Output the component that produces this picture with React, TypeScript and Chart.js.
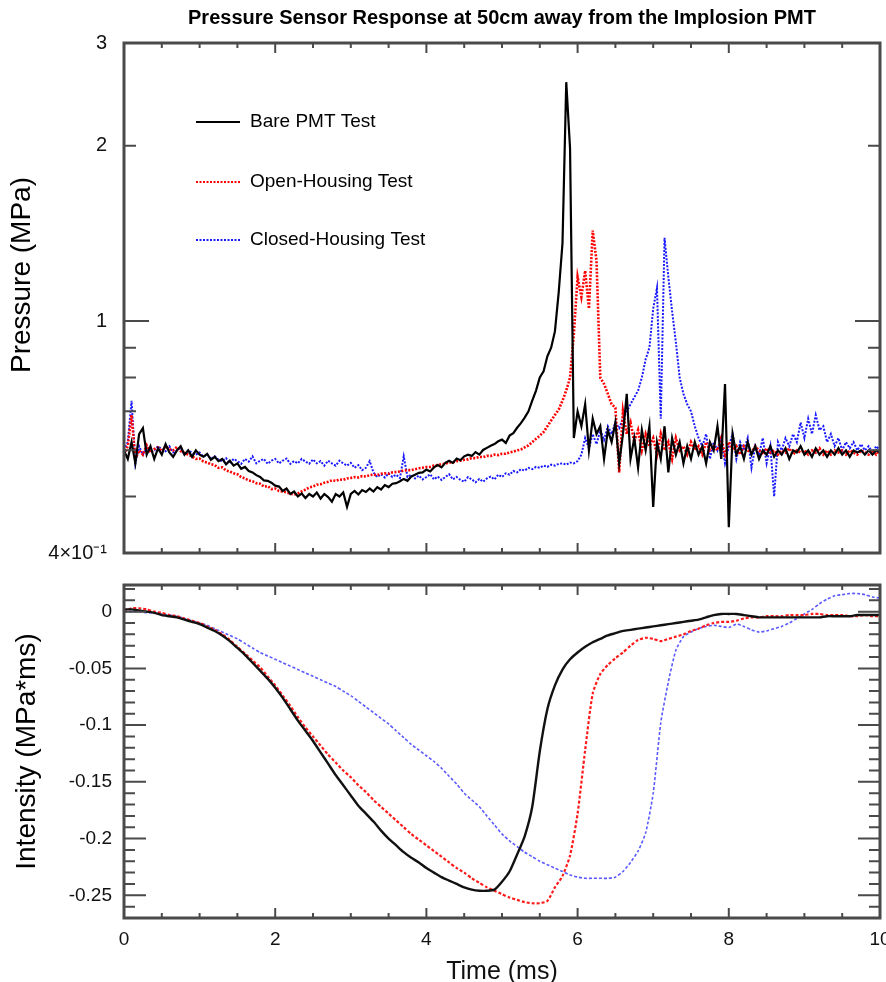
import React, { useEffect, useRef } from 'react';
import { Chart, registerables } from 'chart.js';

Chart.register(...registerables);

const FONT = "'Liberation Sans', Arial, Helvetica, sans-serif";

const TITLE = 'Pressure Sensor Response at 50cm away from the Implosion PMT';
const Y_TITLE_TOP = 'Pressure (MPa)';
const Y_TITLE_BOTTOM = 'Intensity (MPa*ms)';
const X_TITLE = 'Time (ms)';
const SERIES_LABELS = ['Bare PMT Test', 'Open-Housing Test', 'Closed-Housing Test'];

// ---- top panel: pressure (MPa), sampled every 0.05 ms from 0 to 10 ms ----
const PRESSURE_DT = 0.05;
const BARE_P = [
  0.60, 0.58, 0.62, 0.57, 0.64, 0.655, 0.59, 0.61, 0.58, 0.605,
  0.59, 0.615, 0.595, 0.585, 0.60, 0.61, 0.59, 0.60, 0.585, 0.60,
  0.59, 0.585, 0.592, 0.578, 0.585, 0.575, 0.58, 0.568, 0.576, 0.565,
  0.57, 0.558, 0.562, 0.553, 0.55, 0.544, 0.54, 0.533, 0.532, 0.528,
  0.522, 0.52, 0.511, 0.516, 0.505, 0.51, 0.50, 0.506, 0.497, 0.505,
  0.50, 0.508, 0.496, 0.505, 0.499, 0.49, 0.505, 0.50, 0.508, 0.48,
  0.505, 0.511, 0.504, 0.513, 0.509, 0.516, 0.51, 0.519, 0.514, 0.523,
  0.519, 0.526, 0.527, 0.531, 0.536, 0.532, 0.541, 0.545, 0.549, 0.55,
  0.556, 0.552, 0.561, 0.566, 0.561, 0.571, 0.576, 0.571, 0.581, 0.577,
  0.586, 0.59, 0.587, 0.596, 0.59, 0.601, 0.606, 0.611, 0.615, 0.622,
  0.626, 0.618, 0.636, 0.642, 0.656, 0.668, 0.683, 0.70, 0.73, 0.76,
  0.80, 0.82, 0.87, 0.90, 0.96, 1.12, 1.36, 2.57, 1.98, 0.63,
  0.70, 0.66, 0.72, 0.60, 0.68, 0.64, 0.66, 0.58, 0.65, 0.62,
  0.67, 0.57, 0.64, 0.75, 0.58, 0.63, 0.56, 0.65, 0.60, 0.66,
  0.48, 0.62, 0.58, 0.66, 0.55, 0.63, 0.59, 0.62, 0.57, 0.61,
  0.58, 0.62, 0.59, 0.61, 0.57, 0.62, 0.60, 0.66, 0.58, 0.78,
  0.443, 0.64, 0.59, 0.61, 0.58, 0.62, 0.59, 0.61, 0.58, 0.60,
  0.59, 0.61, 0.585, 0.60, 0.59, 0.605, 0.58, 0.60, 0.595, 0.61,
  0.59, 0.60, 0.585, 0.605, 0.59, 0.60, 0.585, 0.60, 0.59, 0.605,
  0.59, 0.60, 0.585, 0.60, 0.595, 0.60, 0.59, 0.60, 0.59, 0.60,
  0.595,
];
const OPEN_P = [
  0.59, 0.61, 0.69, 0.58, 0.60, 0.59, 0.612, 0.595, 0.603, 0.607,
  0.598, 0.61, 0.603, 0.60, 0.608, 0.598, 0.594, 0.59, 0.586, 0.58,
  0.581, 0.574, 0.572, 0.568, 0.566, 0.56, 0.561, 0.554, 0.552, 0.548,
  0.546, 0.54, 0.537, 0.533, 0.531, 0.527, 0.526, 0.52, 0.521, 0.515,
  0.516, 0.511, 0.51, 0.508, 0.506, 0.504, 0.506, 0.51, 0.514, 0.518,
  0.52, 0.524, 0.525, 0.528, 0.53, 0.533, 0.532, 0.535, 0.534, 0.537,
  0.538, 0.54, 0.539, 0.542, 0.541, 0.544, 0.545, 0.544, 0.547, 0.548,
  0.547, 0.55, 0.551, 0.552, 0.554, 0.555, 0.555, 0.557, 0.559, 0.56,
  0.562, 0.562, 0.565, 0.566, 0.568, 0.569, 0.572, 0.572, 0.575, 0.576,
  0.578, 0.579, 0.582, 0.582, 0.585, 0.584, 0.587, 0.587, 0.59, 0.589,
  0.592, 0.592, 0.595, 0.597, 0.60, 0.602, 0.607, 0.612, 0.62, 0.628,
  0.636, 0.645, 0.66, 0.675, 0.69, 0.705, 0.73, 0.76, 0.80, 0.95,
  1.19, 1.10, 1.22, 1.05, 1.43, 1.27, 0.80, 0.78, 0.75, 0.72,
  0.71, 0.55, 0.70, 0.64, 0.67, 0.62, 0.65, 0.60, 0.64, 0.61,
  0.63, 0.59, 0.64, 0.60, 0.62, 0.58, 0.63, 0.60, 0.61, 0.59,
  0.62, 0.60, 0.61, 0.59, 0.62, 0.60, 0.61, 0.60, 0.63, 0.59,
  0.62, 0.60, 0.61, 0.59, 0.61, 0.60, 0.595, 0.61, 0.60, 0.59,
  0.605, 0.595, 0.60, 0.59, 0.60, 0.595, 0.605, 0.59, 0.60, 0.595,
  0.60, 0.59, 0.60, 0.595, 0.605, 0.59, 0.60, 0.59, 0.60, 0.595,
  0.60, 0.59, 0.60, 0.595, 0.59, 0.60, 0.595, 0.59, 0.60, 0.59,
  0.60,
];
const CLOSED_P = [
  0.60, 0.62, 0.73, 0.57, 0.61, 0.59, 0.605, 0.595, 0.60, 0.61,
  0.603, 0.598, 0.61, 0.595, 0.60, 0.606, 0.59, 0.60, 0.594, 0.59,
  0.595, 0.585, 0.59, 0.58, 0.586, 0.578, 0.575, 0.582, 0.57, 0.58,
  0.575, 0.569, 0.58, 0.574, 0.586, 0.57, 0.576, 0.58, 0.569, 0.576,
  0.58, 0.57, 0.576, 0.581, 0.569, 0.575, 0.57, 0.58, 0.574, 0.569,
  0.579, 0.57, 0.575, 0.565, 0.576, 0.57, 0.565, 0.576, 0.57, 0.565,
  0.571, 0.56, 0.566, 0.555, 0.56, 0.575, 0.55, 0.54, 0.546, 0.539,
  0.548, 0.54, 0.545, 0.538, 0.586, 0.54, 0.545, 0.537, 0.543, 0.535,
  0.54, 0.546, 0.535, 0.541, 0.534, 0.54, 0.546, 0.535, 0.54, 0.534,
  0.53, 0.54, 0.535, 0.529, 0.536, 0.53, 0.537, 0.541, 0.535, 0.545,
  0.54, 0.548, 0.545, 0.553, 0.55, 0.557, 0.554, 0.56, 0.557, 0.562,
  0.56, 0.565, 0.562, 0.567, 0.565, 0.569, 0.57, 0.567, 0.572, 0.57,
  0.575, 0.59, 0.63, 0.605, 0.64, 0.615, 0.65, 0.625, 0.66, 0.64,
  0.67, 0.655, 0.68, 0.70, 0.72, 0.74, 0.76, 0.80, 0.86, 0.90,
  1.05, 1.14, 0.68, 1.39, 1.19, 1.04, 0.92, 0.80, 0.75, 0.72,
  0.70, 0.66, 0.63, 0.61, 0.64, 0.58, 0.62, 0.60, 0.63, 0.57,
  0.61, 0.64, 0.58, 0.62, 0.60, 0.63, 0.56, 0.61, 0.59, 0.63,
  0.57, 0.61, 0.50, 0.62, 0.60, 0.63, 0.61, 0.64, 0.62, 0.67,
  0.63, 0.68, 0.64, 0.69, 0.65, 0.66, 0.62, 0.64, 0.61, 0.63,
  0.60, 0.62, 0.605, 0.62, 0.60, 0.615, 0.60, 0.61, 0.595, 0.61,
  0.60,
];

// ---- bottom panel: intensity (MPa*ms), sampled every 0.1 ms from 0 to 10 ms ----
const INTENSITY_DT = 0.1;
const BARE_I = [
  0.002, 0.002, 0.001, 0.000, -0.001, -0.003, -0.004, -0.005, -0.007, -0.009,
  -0.011, -0.014, -0.017, -0.021, -0.026, -0.032, -0.038, -0.045, -0.052, -0.059,
  -0.067, -0.076, -0.086, -0.096, -0.105, -0.114, -0.124, -0.134, -0.144, -0.153,
  -0.162, -0.171, -0.178, -0.185, -0.193, -0.200, -0.206, -0.212, -0.217, -0.221,
  -0.226, -0.230, -0.234, -0.237, -0.240, -0.243, -0.245, -0.246, -0.246, -0.245,
  -0.238, -0.229, -0.214, -0.198, -0.172, -0.123, -0.086, -0.065, -0.051, -0.042,
  -0.036, -0.031, -0.027, -0.024, -0.021, -0.019, -0.017, -0.016, -0.015, -0.014,
  -0.013, -0.012, -0.011, -0.010, -0.009, -0.008, -0.007, -0.005, -0.003, -0.002,
  -0.002, -0.002, -0.003, -0.004, -0.005, -0.005, -0.005, -0.005, -0.005, -0.005,
  -0.005, -0.005, -0.005, -0.004, -0.004, -0.004, -0.004, -0.003, -0.003, -0.003,
  -0.003,
];
const OPEN_I = [
  0.000, 0.003, 0.003, 0.002, 0.000, -0.001, -0.003, -0.004, -0.006, -0.008,
  -0.010, -0.013, -0.016, -0.020, -0.025, -0.031, -0.037, -0.043, -0.049, -0.057,
  -0.065, -0.074, -0.083, -0.093, -0.102, -0.110, -0.118, -0.126, -0.133, -0.140,
  -0.146, -0.153, -0.159, -0.166, -0.172, -0.178, -0.184, -0.190, -0.196, -0.201,
  -0.206, -0.211, -0.216, -0.221, -0.226, -0.230, -0.235, -0.239, -0.243, -0.246,
  -0.249, -0.252, -0.254, -0.256, -0.257, -0.257, -0.255, -0.243, -0.233, -0.215,
  -0.178, -0.122, -0.072, -0.055, -0.047, -0.041, -0.036, -0.030, -0.025, -0.023,
  -0.024, -0.026, -0.024, -0.022, -0.020, -0.017, -0.015, -0.012, -0.010, -0.009,
  -0.009, -0.008, -0.006, -0.005, -0.005, -0.004, -0.004, -0.004, -0.003, -0.003,
  -0.003, -0.002, -0.002, -0.003, -0.003, -0.003, -0.004, -0.004, -0.003, -0.004,
  -0.004,
];
const CLOSED_I = [
  0.000, 0.000, 0.000, -0.001, -0.001, -0.002, -0.003, -0.004, -0.006, -0.008,
  -0.010, -0.012, -0.015, -0.018, -0.021, -0.024, -0.028, -0.032, -0.036, -0.039,
  -0.042, -0.045, -0.048, -0.051, -0.054, -0.057, -0.060, -0.063, -0.066, -0.070,
  -0.074, -0.079, -0.084, -0.089, -0.094, -0.099, -0.105, -0.111, -0.117, -0.122,
  -0.127, -0.132, -0.138, -0.145, -0.152, -0.160, -0.166, -0.172, -0.180, -0.188,
  -0.196, -0.202, -0.207, -0.212, -0.216, -0.220, -0.223, -0.226, -0.229, -0.232,
  -0.234, -0.235, -0.235, -0.235, -0.235, -0.234, -0.229, -0.221, -0.211, -0.195,
  -0.160, -0.098, -0.062, -0.034, -0.022, -0.018, -0.015, -0.013, -0.012, -0.013,
  -0.014, -0.011, -0.013, -0.016, -0.018, -0.017, -0.015, -0.013, -0.010, -0.006,
  -0.002, 0.002, 0.007, 0.011, 0.014, 0.015, 0.016, 0.016, 0.015, 0.013,
  0.012,
];

// ---- axes ----
const X_MIN = 0;
const X_MAX = 10;
const X_MAJOR_TICKS = [0, 2, 4, 6, 8, 10];
const X_MINOR_TICKS = [0.5, 1, 1.5, 2.5, 3, 3.5, 4.5, 5, 5.5, 6.5, 7, 7.5, 8.5, 9, 9.5];

const P_MIN = 0.4;
const P_MAX = 3;
const P_LABEL_VALUES = [0.4, 1, 2, 3];
const P_LABEL_TEXT = ['4×10⁻¹', '1', '2', '3'];
const P_MAJOR_TICKS = [1];
const P_MINOR_TICKS = [0.5, 0.6, 0.7, 0.8, 0.9, 2];

const I_MIN = -0.27;
const I_MAX = 0.0235;
const I_LABEL_VALUES = [0, -0.05, -0.1, -0.15, -0.2, -0.25];
const I_LABEL_TEXT = ['0', '-0.05', '-0.1', '-0.15', '-0.2', '-0.25'];
const I_MINOR_TICKS = [
  0.02, 0.01, -0.01, -0.02, -0.03, -0.04, -0.06, -0.07, -0.08, -0.09, -0.11, -0.12,
  -0.13, -0.14, -0.16, -0.17, -0.18, -0.19, -0.21, -0.22, -0.23, -0.24, -0.26,
];

const FRAME_COLOR = '#4a4a4a';

const framePlugin = {
  id: 'frame',
  afterDatasetsDraw(chart: any, _args: any, o: any) {
    const { ctx, chartArea: a, scales } = chart;
    const xs = scales.x;
    const ys = scales.y;
    ctx.save();
    ctx.strokeStyle = FRAME_COLOR;
    ctx.lineWidth = 2;
    ctx.beginPath();
    const xTick = (v: number, len: number) => {
      const p = xs.getPixelForValue(v);
      ctx.moveTo(p, a.top);
      ctx.lineTo(p, a.top + len);
      ctx.moveTo(p, a.bottom);
      ctx.lineTo(p, a.bottom - len);
    };
    const yTick = (v: number, len: number) => {
      const p = ys.getPixelForValue(v);
      ctx.moveTo(a.left, p);
      ctx.lineTo(a.left + len, p);
      ctx.moveTo(a.right, p);
      ctx.lineTo(a.right - len, p);
    };
    X_MAJOR_TICKS.forEach((v) => xTick(v, 10));
    X_MINOR_TICKS.forEach((v) => xTick(v, 5));
    o.yMajor.forEach((v: number) => yTick(v, o.yMajorLen));
    o.yMinor.forEach((v: number) => yTick(v, o.yMinorLen));
    ctx.stroke();
    ctx.lineWidth = 3;
    ctx.strokeRect(a.left, a.top, a.right - a.left, a.bottom - a.top);

    if (o.showTitle) {
      ctx.fillStyle = '#000';
      ctx.font = `bold 20px ${FONT}`;
      ctx.textAlign = 'center';
      ctx.textBaseline = 'middle';
      ctx.fillText(TITLE, (a.left + a.right) / 2, 18);

      ctx.save();
      ctx.translate(22, 275);
      ctx.rotate(-Math.PI / 2);
      ctx.font = `28px ${FONT}`;
      ctx.fillText(Y_TITLE_TOP, 0, 0);
      ctx.restore();
    }

    if (o.showLegend) {
      const rows = [122, 182, 240];
      chart.data.datasets.forEach((ds: any, i: number) => {
        const y = rows[i];
        ctx.save();
        ctx.strokeStyle = ds.borderColor;
        ctx.lineWidth = 2;
        ctx.setLineDash(ds.borderDash || []);
        ctx.beginPath();
        ctx.moveTo(196, y);
        ctx.lineTo(240, y);
        ctx.stroke();
        ctx.restore();
        ctx.fillStyle = '#000';
        ctx.font = `19px ${FONT}`;
        ctx.textAlign = 'left';
        ctx.textBaseline = 'middle';
        ctx.fillText(ds.label, 250, y);
      });
    }
    ctx.restore();
  },
};

function series(values: number[], dt: number) {
  return values.map((y, i) => ({ x: i * dt, y }));
}

function topConfig(): any {
  return {
    type: 'line',
    data: {
      datasets: [
        { label: SERIES_LABELS[0], data: series(BARE_P, PRESSURE_DT), borderColor: '#000000', borderWidth: 2.2, pointRadius: 0 },
        { label: SERIES_LABELS[1], data: series(OPEN_P, PRESSURE_DT), borderColor: '#ff0000', borderWidth: 2.6, borderDash: [2, 1.5], pointRadius: 0 },
        { label: SERIES_LABELS[2], data: series(CLOSED_P, PRESSURE_DT), borderColor: '#1a1aff', borderWidth: 2, borderDash: [2, 1.5], pointRadius: 0 },
      ],
    },
    options: {
      animation: false,
      responsive: false,
      maintainAspectRatio: false,
      events: [],
      layout: { padding: { top: 43, right: 6, left: 0, bottom: 0 } },
      elements: { line: { tension: 0 } },
      plugins: {
        legend: { display: false },
        tooltip: { enabled: false },
        title: { display: false },
        frame: { yMajor: P_MAJOR_TICKS, yMinor: P_MINOR_TICKS, yMajorLen: 25, yMinorLen: 12, showTitle: true, showLegend: true },
      },
      scales: {
        x: {
          type: 'linear',
          min: X_MIN,
          max: X_MAX,
          grid: { display: false, drawTicks: false },
          border: { display: false },
          ticks: { display: false },
          afterFit: (s: any) => { s.height = 17; s.paddingLeft = 0; s.paddingRight = 0; },
        },
        y: {
          type: 'logarithmic',
          min: P_MIN,
          max: P_MAX,
          grid: { display: false, drawTicks: false },
          border: { display: false },
          afterBuildTicks: (s: any) => { s.ticks = P_LABEL_VALUES.map((value) => ({ value })); },
          ticks: {
            autoSkip: false,
            padding: 17,
            color: '#111',
            font: { family: FONT, size: 20 },
            callback: (_v: any, i: number) => P_LABEL_TEXT[i],
          },
          afterFit: (s: any) => { s.width = 124; s.paddingTop = 0; s.paddingBottom = 0; },
        },
      },
    },
    plugins: [framePlugin],
  };
}

function bottomConfig(): any {
  return {
    type: 'line',
    data: {
      datasets: [
        { label: SERIES_LABELS[0], data: series(BARE_I, INTENSITY_DT), borderColor: '#111111', borderWidth: 2.4, pointRadius: 0 },
        { label: SERIES_LABELS[1], data: series(OPEN_I, INTENSITY_DT), borderColor: '#ff1a1a', borderWidth: 2.2, borderDash: [3, 2], pointRadius: 0 },
        { label: SERIES_LABELS[2], data: series(CLOSED_I, INTENSITY_DT), borderColor: '#5a5aff', borderWidth: 1.6, borderDash: [3, 2], pointRadius: 0 },
      ],
    },
    options: {
      animation: false,
      responsive: false,
      maintainAspectRatio: false,
      events: [],
      layout: { padding: { top: 15, right: 6, left: 0, bottom: 0 } },
      elements: { line: { tension: 0.2 } },
      plugins: {
        legend: { display: false },
        tooltip: { enabled: false },
        title: { display: false },
        frame: { yMajor: I_LABEL_VALUES, yMinor: I_MINOR_TICKS, yMajorLen: 22, yMinorLen: 11, showTitle: false, showLegend: false },
      },
      scales: {
        x: {
          type: 'linear',
          min: X_MIN,
          max: X_MAX,
          grid: { display: false, drawTicks: false },
          border: { display: false },
          afterBuildTicks: (s: any) => { s.ticks = X_MAJOR_TICKS.map((value) => ({ value })); },
          ticks: {
            autoSkip: false,
            maxRotation: 0,
            padding: 10,
            color: '#111',
            font: { family: FONT, size: 19 },
            callback: (v: any) => String(v),
          },
          title: {
            display: true,
            text: X_TITLE,
            color: '#111',
            font: { family: FONT, size: 25 },
            padding: { top: 0, bottom: 13 },
          },
          afterFit: (s: any) => { s.height = 82; s.paddingLeft = 0; s.paddingRight = 0; },
        },
        y: {
          type: 'linear',
          min: I_MIN,
          max: I_MAX,
          grid: { display: false, drawTicks: false },
          border: { display: false },
          afterBuildTicks: (s: any) => { s.ticks = I_LABEL_VALUES.map((value) => ({ value })); },
          ticks: {
            autoSkip: false,
            padding: 12,
            color: '#111',
            font: { family: FONT, size: 19 },
            callback: (_v: any, i: number) => I_LABEL_TEXT[i],
          },
          title: {
            display: true,
            text: Y_TITLE_BOTTOM,
            color: '#000',
            font: { family: FONT, size: 28 },
            padding: { top: 10, bottom: 0 },
          },
          afterFit: (s: any) => { s.width = 124; s.paddingTop = 0; s.paddingBottom = 0; },
        },
      },
    },
    plugins: [framePlugin],
  };
}

export default function App() {
  const topRef = useRef<HTMLCanvasElement>(null);
  const botRef = useRef<HTMLCanvasElement>(null);

  useEffect(() => {
    const top = new Chart(topRef.current as HTMLCanvasElement, topConfig());
    const bot = new Chart(botRef.current as HTMLCanvasElement, bottomConfig());
    return () => {
      top.destroy();
      bot.destroy();
    };
  }, []);

  return (
    <div style={{ position: 'fixed', left: 0, top: 0, width: 886, height: 982, overflow: 'hidden', background: '#fff' }}>
      <canvas ref={topRef} width={886} height={570} style={{ position: 'absolute', left: 0, top: 0, width: 886, height: 570 }} />
      <canvas ref={botRef} width={886} height={430} style={{ position: 'absolute', left: 0, top: 570, width: 886, height: 430 }} />
    </div>
  );
}
